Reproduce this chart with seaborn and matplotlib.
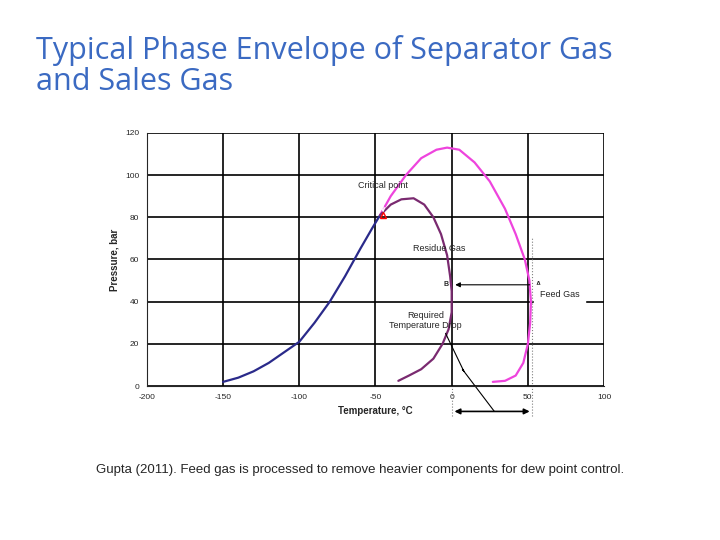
import numpy as np
import pandas as pd
import matplotlib
matplotlib.use("Agg")
import matplotlib.pyplot as plt
from matplotlib.patches import FancyArrowPatch
import seaborn as sns

# bubble point line (blue) up to critical point
bub_t = [-150, -140, -130, -120, -110, -100, -90, -80, -70, -60, -52, -47]
bub_p = [2, 4, 7, 11, 16, 21, 30, 40, 52, 65, 75, 81]

# feed gas dew curve (magenta)
feed_t = [-47, -40, -30, -20, -10, -3, 5, 15, 25, 35, 42, 48, 51, 52, 51.5, 50, 47, 42, 35, 27]
feed_p = [81, 90, 100, 108, 112, 113, 112, 106, 97, 84, 72, 60, 50, 40, 30, 20, 11, 5, 2.5, 2]

# residue gas dew curve (purple)
res_t = [-47, -40, -33, -25, -18, -12, -7, -3, -1, 0, 0, -2, -6, -12, -20, -28, -35]
res_p = [81, 86, 88.5, 89, 86, 80, 72, 62, 52, 45, 35, 27, 20, 13, 8, 5, 2.5]

sns.set_style("white")
plt.rcParams["font.family"] = ["Liberation Sans", "DejaVu Sans"]
plt.rcParams["axes.unicode_minus"] = False

fig = plt.figure(figsize=(7.2, 5.4), dpi=100)
fig.text(0.05, 0.935, "Typical Phase Envelope of Separator Gas\nand Sales Gas",
         fontsize=22, color="#3b6ac2", va="top", linespacing=1.05,
         family=["Open Sans", "DejaVu Sans"])

ax = fig.add_axes([0.204, 0.285, 0.635, 0.469])
bub = pd.DataFrame({"T": bub_t, "P": bub_p})
feed = pd.DataFrame({"T": feed_t, "P": feed_p})
res = pd.DataFrame({"T": res_t, "P": res_p})
sns.lineplot(data=bub, x="T", y="P", sort=False, estimator=None, color="#2a2a8a", lw=1.6, ax=ax)
sns.lineplot(data=feed, x="T", y="P", sort=False, estimator=None, color="#ee44dd", lw=1.6, ax=ax)
sns.lineplot(data=res, x="T", y="P", sort=False, estimator=None, color="#7a2a70", lw=1.6, ax=ax)

ax.set_xlim(-200, 100)
ax.set_ylim(0, 120)
ax.set_xticks(range(-200, 101, 50))
ax.set_yticks(range(0, 121, 20))
ax.grid(True, color="black", lw=1.2)
for s in ax.spines.values():
    s.set_visible(False)
ax.spines["left"].set_visible(True)
ax.spines["bottom"].set_visible(True)
ax.tick_params(labelsize=6, length=2)
ax.set_xlabel("Temperature, °C", fontsize=7, fontweight="bold")
ax.set_ylabel("Pressure, bar", fontsize=7, fontweight="bold")

ax.plot(-45, 81, marker="^", ms=5, mfc="none", mec="red")
ax.annotate("Critical point", xy=(-45, 81), xytext=(-45, 94), fontsize=6.5,
            ha="center", arrowprops=dict(arrowstyle="->", lw=0.8))
ax.text(-8, 64, "Residue Gas", fontsize=6.5, ha="center")
ab = FancyArrowPatch((53, 48), (0.5, 48), arrowstyle="-|>", mutation_scale=7,
                     lw=0.8, color="black", zorder=5)
ax.add_patch(ab)
ax.text(-2, 48, "B", fontsize=5, ha="right", va="center", fontweight="bold")
ax.text(55, 48, "A", fontsize=5, ha="left", va="center", fontweight="bold")
ax.text(58, 42, "Feed Gas", fontsize=6.5, backgroundcolor="white")
ax.plot([53, 53], [-14, 70], color="gray", lw=0.8, ls=":", clip_on=False)
ax.plot([0, 0], [-14, 0], color="gray", lw=0.8, ls=":", clip_on=False)
ax.text(-17, 27.5, "Required\nTemperature Drop", fontsize=6.5, ha="center", linespacing=1.1)
td = FancyArrowPatch((0, -12), (53, -12), arrowstyle="<|-|>", mutation_scale=8,
                     lw=1.2, color="black", clip_on=False)
ax.add_patch(td)
ax.plot([-4, 8, 7, 28], [25, 7, 8, -12], color="black", lw=0.8, clip_on=False)

fig.text(0.5, 0.125, "Gupta (2011). Feed gas is processed to remove heavier components for dew point control.",
         ha="center", fontsize=9.5)
fig.savefig("out.png", dpi=100)
